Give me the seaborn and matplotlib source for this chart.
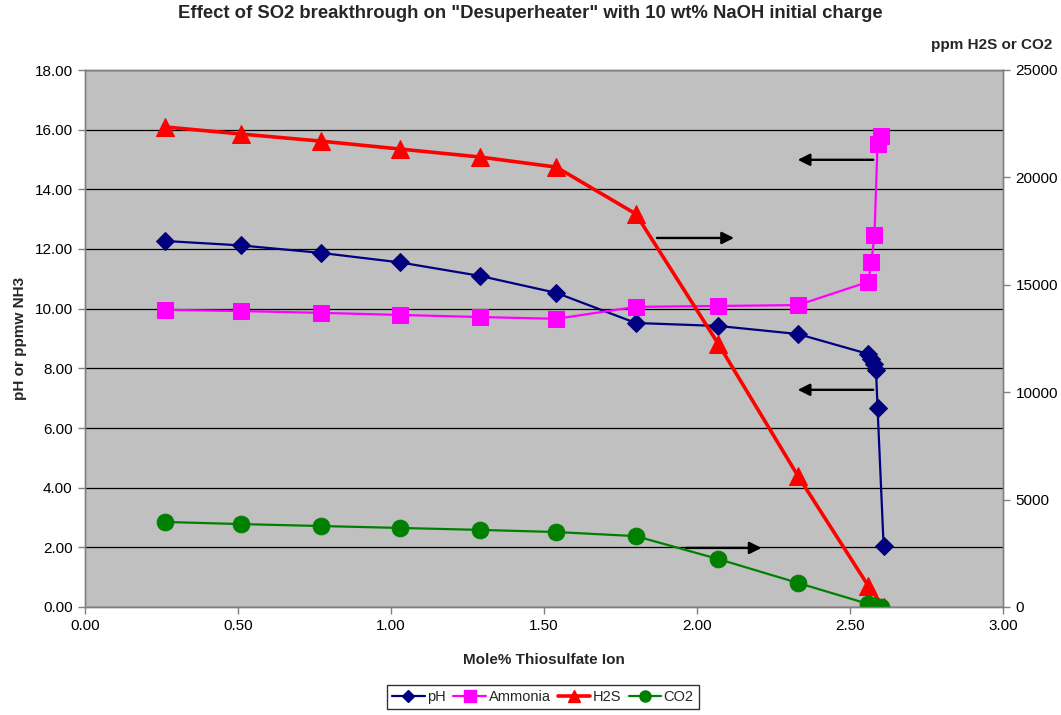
import matplotlib
matplotlib.use("Agg")
import matplotlib.pyplot as plt
import seaborn as sns
import pandas as pd
from matplotlib.lines import Line2D

sns.set_theme(style="white")
plt.rcParams['font.family'] = ['Liberation Sans', 'DejaVu Sans']

# ---- data ----
x_ph = [0.26, 0.51, 0.77, 1.03, 1.29, 1.54, 1.80, 2.07, 2.33, 2.56, 2.57, 2.58, 2.585, 2.59, 2.61]
ph = [12.27, 12.12, 11.87, 11.55, 11.10, 10.53, 9.52, 9.42, 9.15, 8.48, 8.30, 8.15, 7.94, 6.68, 2.03]

x_nh3 = [0.26, 0.51, 0.77, 1.03, 1.29, 1.54, 1.80, 2.07, 2.33, 2.56, 2.57, 2.58, 2.59, 2.60]
ammonia = [9.96, 9.92, 9.86, 9.79, 9.72, 9.66, 10.06, 10.09, 10.12, 10.90, 11.57, 12.47, 15.52, 15.79]

x_h2s = [0.26, 0.51, 0.77, 1.03, 1.29, 1.54, 1.80, 2.07, 2.33, 2.56, 2.61]
h2s = [22350, 22020, 21690, 21320, 20950, 20480, 18300, 12240, 6100, 980, 0]

x_co2 = [0.26, 0.51, 0.77, 1.03, 1.29, 1.54, 1.80, 2.07, 2.33, 2.56, 2.58, 2.60]
co2 = [3960, 3860, 3770, 3680, 3590, 3490, 3300, 2230, 1120, 140, 50, 0]

x_ticks = [0.0, 0.5, 1.0, 1.5, 2.0, 2.5, 3.0]
left_ticks = [0, 2, 4, 6, 8, 10, 12, 14, 16, 18]
right_ticks = [0, 5000, 10000, 15000, 20000, 25000]

title = 'Effect of SO2 breakthrough on "Desuperheater" with 10 wt% NaOH initial charge'

fig = plt.figure(figsize=(10.61, 7.15), dpi=100)
ax = fig.add_axes([85/1061, 108/715, 918/1061, 537/715])
ax2 = ax.twinx()

ax.set_facecolor('#C0C0C0')
ax.set_zorder(ax2.get_zorder() - 1)
ax2.patch.set_visible(False)

df_ph = pd.DataFrame({'x': x_ph, 'y': ph})
df_nh3 = pd.DataFrame({'x': x_nh3, 'y': ammonia})
df_h2s = pd.DataFrame({'x': x_h2s, 'y': h2s})
df_co2 = pd.DataFrame({'x': x_co2, 'y': co2})

sns.lineplot(data=df_ph, x='x', y='y', ax=ax, sort=False, color='#000080', lw=1.6,
             marker='D', markersize=9, markeredgecolor='#000080', label='pH', legend=False)
sns.lineplot(data=df_nh3, x='x', y='y', ax=ax, sort=False, color='#FF00FF', lw=1.6,
             marker='s', markersize=12, markeredgecolor='#FF00FF', label='Ammonia', legend=False)

# arrows (indicate which axis)
for (x0, x1, yy) in [(2.585, 2.32, 14.99), (2.585, 2.32, 7.28), (1.86, 2.13, 12.37), (1.955, 2.22, 1.98)]:
    ax.annotate('', xy=(x1, yy), xytext=(x0, yy),
                arrowprops=dict(arrowstyle='-|>', color='black', lw=1.7, mutation_scale=18))

sns.lineplot(data=df_h2s, x='x', y='y', ax=ax2, sort=False, color='#FF0000', lw=2.6,
             marker='^', markersize=13, markeredgecolor='#FF0000', label='H2S', legend=False)
sns.lineplot(data=df_co2, x='x', y='y', ax=ax2, sort=False, color='#008000', lw=1.6,
             marker='o', markersize=12, markeredgecolor='#008000', label='CO2', legend=False)

ax.set_xlim(0, 3)
ax.set_ylim(0, 18)
ax2.set_ylim(0, 25000)
ax.set_xticks(x_ticks)
ax.set_xticklabels([f'{v:.2f}' for v in x_ticks], fontsize=11)
ax.set_yticks(left_ticks)
ax.set_yticklabels([f'{v:.2f}' for v in left_ticks], fontsize=11)
ax2.set_yticks(right_ticks)
ax2.set_yticklabels([str(v) for v in right_ticks], fontsize=11)

ax.yaxis.grid(True, color='black', lw=0.9)
ax.xaxis.grid(False)
for a in (ax, ax2):
    for s in a.spines.values():
        s.set_color('#808080')
        s.set_linewidth(1.0)
    a.tick_params(direction='out', length=5, width=1, color='#808080', pad=4, labelcolor='black')
ax.tick_params(axis='both', which='both', bottom=True, left=True)
ax2.tick_params(axis='y', right=True)

ax.set_xlabel('Mole% Thiosulfate Ion', fontsize=11, fontweight='bold', labelpad=14)
ax.set_ylabel('pH or ppmw NH3', fontsize=11, fontweight='bold', labelpad=5)
ax2.set_ylabel('')
fig.text(1052/1061, 1 - 45/715, 'ppm H2S or CO2', fontsize=11, fontweight='bold', ha='right', va='center')
fig.suptitle(title, fontsize=13.3, fontweight='bold', y=1 - 14/715, va='center')

handles = [
    Line2D([], [], color='#000080', marker='D', markersize=6, lw=1.6),
    Line2D([], [], color='#FF00FF', marker='s', markersize=8, lw=1.6),
    Line2D([], [], color='#FF0000', marker='^', markersize=8, lw=2.6),
    Line2D([], [], color='#008000', marker='o', markersize=8, lw=1.6),
]
leg = fig.legend(handles, ['pH', 'Ammonia', 'H2S', 'CO2'], loc='center', bbox_to_anchor=(543/1061, 1 - 697/715),
                 ncol=4, fontsize=10.5, frameon=True, fancybox=False, handlelength=2.2, handletextpad=0.2,
                 columnspacing=0.5, borderpad=0.35, borderaxespad=0)
leg.get_frame().set_edgecolor('black')
leg.get_frame().set_linewidth(1.0)

fig.savefig('out.png', dpi=100)
